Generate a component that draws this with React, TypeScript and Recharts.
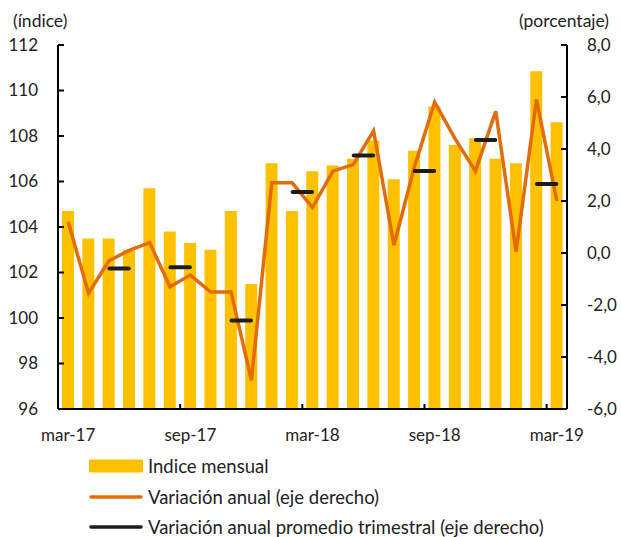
import React from "react";
import { Bar, ComposedChart, Line, XAxis, YAxis } from "recharts";

const months = [
  "mar-17", "abr-17", "may-17", "jun-17", "jul-17", "ago-17", "sep-17",
  "oct-17", "nov-17", "dic-17", "ene-18", "feb-18", "mar-18", "abr-18",
  "may-18", "jun-18", "jul-18", "ago-18", "sep-18", "oct-18", "nov-18",
  "dic-18", "ene-19", "feb-19", "mar-19",
];

// índice mensual (eje izquierdo)
const indiceMensual = [
  104.7, 103.5, 103.5, 103.0, 105.7, 103.8, 103.3, 103.0, 104.7, 101.5,
  106.8, 104.7, 106.45, 106.7, 107.0, 107.8, 106.1, 107.35, 109.3, 107.6,
  107.9, 107.0, 106.8, 110.85, 108.6,
];

// variación anual, % (eje derecho)
const variacionAnual = [
  1.2, -1.55, -0.3, 0.1, 0.4, -1.3, -0.85, -1.5, -1.5, -4.9, 2.7, 2.7,
  1.75, 3.15, 3.4, 4.7, 0.3, 3.3, 5.8, 4.4, 3.15, 5.45, 0.05, 5.9, 2.0,
];

// promedio trimestral, marcado en el mes central de cada trimestre
const promedioTrimestral = [
  null, null, -0.6, null, null, -0.55, null, null, -2.6, null, null, 2.35,
  null, null, 3.75, null, null, 3.15, null, null, 4.35, null, null, 2.65,
  null,
];

const leftTicks = [96, 98, 100, 102, 104, 106, 108, 110, 112];
const rightTicks = [-6, -4, -2, 0, 2, 4, 6, 8];

const data = months.map((mes, i) => ({
  mes,
  indice: indiceMensual[i],
  anual: variacionAnual[i],
  trimestral: promedioTrimestral[i],
}));

const WIDTH = 621;
const HEIGHT = 537;
const LEFT_W = 58;
const RIGHT_W = 54;
const BAND = (WIDTH - LEFT_W - RIGHT_W) / months.length;

const FONT = "Lato, 'Open Sans', sans-serif";
const TEXT = "#222";
const BAR = "#FFC000";
const ORANGE = "#E36C0A";
const DARK = "#1c1c1c";

const LeftTick = (props: any) => {
  const { x, y, payload } = props;
  return (
    <g>
      <line x1={x + 20} x2={x + 26} y1={y} y2={y} stroke="#000" strokeWidth={2} />
      <text x={x} y={y} dy="0.35em" textAnchor="end" fontSize={17} fill={TEXT} fontFamily={FONT}>
        {payload.value}
      </text>
    </g>
  );
};

const RightTick = (props: any) => {
  const { x, y, payload } = props;
  return (
    <g>
      <line x1={x - 20} x2={x - 26} y1={y} y2={y} stroke="#000" strokeWidth={2} />
      <text x={x} y={y} dy="0.35em" textAnchor="start" fontSize={17} fill={TEXT} fontFamily={FONT}>
        {Number(payload.value).toFixed(1).replace(".", ",")}
      </text>
    </g>
  );
};

const MonthTick = (props: any) => {
  const { x, y, payload } = props;
  const axisY = y - 26;
  const bx = x - BAND / 2;
  return (
    <g>
      <line x1={bx} x2={bx} y1={axisY} y2={axisY - 5} stroke="#000" strokeWidth={2} />
      <text x={x} y={y} dy="0.35em" textAnchor="middle" fontSize={17} fill={TEXT} fontFamily={FONT}>
        {payload.value}
      </text>
    </g>
  );
};

const QuarterDash = (props: any) => {
  const { cx, cy, value } = props;
  if (value == null || cy == null || isNaN(cy)) return <g key={props.key} />;
  return (
    <line
      key={props.key}
      x1={cx + 0.5}
      x2={cx + BAND - 0.5}
      y1={cy}
      y2={cy}
      stroke={DARK}
      strokeWidth={4}
      strokeLinecap="round"
    />
  );
};

const legendItems = [
  { label: "Indice mensual", kind: "bar", color: BAR },
  { label: "Variación anual (eje derecho)", kind: "line", color: ORANGE },
  { label: "Variación anual promedio trimestral (eje derecho)", kind: "line", color: DARK },
];

export default function App() {
  return (
    <div style={{ position: "absolute", left: 0, top: 0, width: WIDTH, height: HEIGHT, background: "#fff", fontFamily: FONT, overflow: "hidden" }}>
      <div style={{ position: "absolute", left: 13, top: 10, fontSize: 17.5, color: TEXT, lineHeight: "22px" }}>(índice)</div>
      <div style={{ position: "absolute", left: 519, top: 10, fontSize: 17.5, color: TEXT, lineHeight: "22px" }}>(porcentaje)</div>
      <ComposedChart
        width={WIDTH}
        height={HEIGHT}
        data={data}
        margin={{ top: 45, right: 0, left: 0, bottom: 88 }}
        barCategoryGap="19.5%"
      >
        <XAxis
          dataKey="mes"
          interval={5}
          tickSize={0}
          tickMargin={26}
          height={40}
          axisLine={{ stroke: "#000", strokeWidth: 2 }}
          tickLine={false}
          tick={<MonthTick />}
        />
        <YAxis
          yAxisId="left"
          orientation="left"
          width={LEFT_W}
          domain={[96, 112]}
          ticks={leftTicks}
          tickSize={0}
          tickMargin={20}
          axisLine={{ stroke: "#000", strokeWidth: 2 }}
          tickLine={false}
          tick={<LeftTick />}
        />
        <YAxis
          yAxisId="right"
          orientation="right"
          width={RIGHT_W}
          domain={[-6, 8]}
          ticks={rightTicks}
          tickSize={0}
          tickMargin={20}
          axisLine={{ stroke: "#000", strokeWidth: 2 }}
          tickLine={false}
          tick={<RightTick />}
        />
        <Bar yAxisId="left" dataKey="indice" fill={BAR} isAnimationActive={false} />
        <Line
          yAxisId="right"
          dataKey="anual"
          stroke={ORANGE}
          strokeWidth={3.5}
          dot={false}
          activeDot={false}
          type="linear"
          isAnimationActive={false}
        />
        <Line
          yAxisId="right"
          dataKey="trimestral"
          stroke="none"
          dot={QuarterDash}
          activeDot={false}
          type="linear"
          isAnimationActive={false}
        />
      </ComposedChart>
      <div style={{ position: "absolute", left: 89, top: 451 }}>
        {legendItems.map((item) => (
          <div key={item.label} style={{ display: "flex", alignItems: "center", height: 30.5 }}>
            <svg width={56} height={20} style={{ marginRight: 3 }}>
              {item.kind === "bar" ? (
                <rect x={0} y={3.5} width={54} height={13} fill={item.color} />
              ) : (
                <line x1={2} x2={52} y1={10} y2={10} stroke={item.color} strokeWidth={3.5} strokeLinecap="round" />
              )}
            </svg>
            <span style={{ fontSize: 18.5, color: TEXT, whiteSpace: "nowrap", lineHeight: "22px" }}>{item.label}</span>
          </div>
        ))}
      </div>
    </div>
  );
}
